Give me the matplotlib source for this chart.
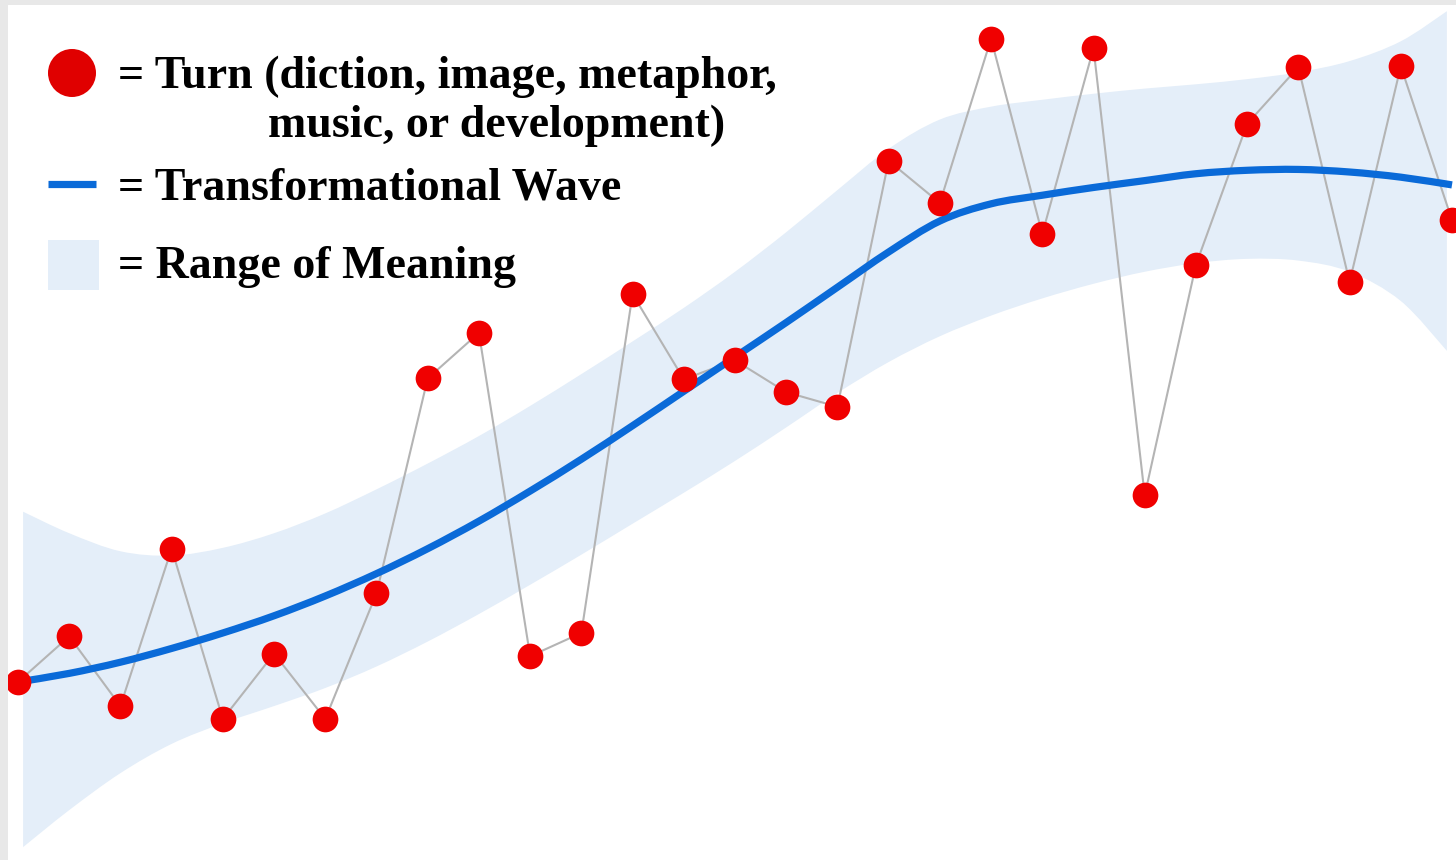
import matplotlib
matplotlib.use("Agg")
import matplotlib.pyplot as plt
from matplotlib.patches import Rectangle, Circle, PathPatch
from matplotlib.path import Path

# turns (red points), one per step along the poem
turn_x = list(range(29))
turn_y = [20.7, 26.0, 17.9, 36.2, 16.4, 24.0, 16.4, 31.0, 56.0, 61.3,
          23.7, 26.4, 65.8, 55.9, 58.1, 54.4, 52.7, 81.3, 76.4, 95.5,
          72.8, 94.4, 42.4, 69.2, 85.6, 92.2, 67.2, 92.3, 74.4]

# transformational wave (blue curve)
wave_y = [20.7, 21.7, 23.0, 24.6, 26.4, 28.4, 30.7, 33.3, 36.2, 39.4,
          42.9, 46.6, 50.5, 54.5, 58.5, 62.5, 66.6, 70.7, 74.3, 76.3,
          77.3, 78.2, 79.0, 79.8, 80.2, 80.3, 80.0, 79.4, 78.5]

# range of meaning (light band)
band_x = [0.1] + list(range(1, 28)) + [27.9]
band_top = [40.5, 38.0, 35.9, 35.4, 36.3, 38.0, 40.3, 43.1, 46.1, 49.3,
            52.8, 56.5, 60.3, 64.2, 68.4, 73.0, 77.9, 82.7, 86.1, 87.6,
            88.4, 89.1, 89.7, 90.2, 90.8, 91.6, 92.9, 95.2, 98.7]
band_bottom = [1.5, 5.8, 10.1, 13.5, 15.9, 17.9, 20.0, 22.5, 25.4, 28.6,
               32.0, 35.5, 39.1, 42.7, 46.4, 50.3, 54.3, 57.9, 60.9, 63.3,
               65.3, 67.0, 68.4, 69.4, 69.9, 69.7, 68.4, 65.0, 59.2]

legend_labels = ["= Turn (diction, image, metaphor,",
                 "music, or development)",
                 "= Transformational Wave",
                 "= Range of Meaning"]

RED = "#f00000"
BLUE = "#0a6ad8"
BAND = "#e4eef9"
GRAY = "#b4b4b4"


def smooth(xs, ys):
    # catmull-rom through the points, written as cubic bezier segments
    pts = list(zip(xs, ys))
    n = len(pts)
    verts = [pts[0]]
    codes = [Path.MOVETO]
    for i in range(n - 1):
        p0 = pts[max(i - 1, 0)]
        p1 = pts[i]
        p2 = pts[i + 1]
        p3 = pts[min(i + 2, n - 1)]
        c1 = (p1[0] + (p2[0] - p0[0]) / 6, p1[1] + (p2[1] - p0[1]) / 6)
        c2 = (p2[0] - (p3[0] - p1[0]) / 6, p2[1] - (p3[1] - p1[1]) / 6)
        verts += [c1, c2, p2]
        codes += [Path.CURVE4] * 3
    return verts, codes


W, H = 1456, 860
fig = plt.figure(figsize=(W / 100, H / 100), dpi=100, facecolor="#e8e8e8")

ax = fig.add_axes([8 / W, 0, 1 - 8 / W, 1 - 5 / H])
ax.set_xlim(-0.195, 28.078)
ax.set_ylim(0, 99.42)
ax.axis("off")
ax.add_patch(Rectangle((0, 0), 1, 1, transform=ax.transAxes, color="white", zorder=0))

# band: smooth top edge forward, smooth bottom edge back
tv, tc = smooth(band_x, band_top)
bv, bc = smooth(band_x[::-1], band_bottom[::-1])
bc[0] = Path.LINETO
band_path = Path(tv + bv + [tv[0]], tc + bc + [Path.CLOSEPOLY])
ax.add_patch(PathPatch(band_path, facecolor=BAND, lw=0, zorder=1))

ax.plot(turn_x, turn_y, color=GRAY, lw=1.5, zorder=2)

wv, wc = smooth(turn_x, wave_y)
ax.add_patch(PathPatch(Path(wv, wc), facecolor="none", edgecolor=BLUE, lw=5.2,
                       capstyle="butt", zorder=3))

ax.plot(turn_x, turn_y, "o", color=RED, ms=18.5, mec="none", zorder=4)

# legend drawn in pixel space
lg = fig.add_axes([0, 0, 1, 1], facecolor="none")
lg.set_xlim(0, W)
lg.set_ylim(H, 0)
lg.axis("off")
lg.add_patch(Circle((72, 73), 24, color="#e00000", lw=0))
lg.plot([48, 96], [184, 184], color=BLUE, lw=5.2, solid_capstyle="butt")
lg.add_patch(Rectangle((48, 240), 51, 50, color=BAND, lw=0))

font = dict(family="Liberation Serif", fontweight="bold", fontsize=33, color="black", va="baseline")
lg.text(118, 88, legend_labels[0], **font)
lg.text(268, 137, legend_labels[1], **font)
lg.text(118, 199, legend_labels[2], **font)
lg.text(118, 278, legend_labels[3], **font)

fig.savefig("out.png", dpi=100, facecolor=fig.get_facecolor())
